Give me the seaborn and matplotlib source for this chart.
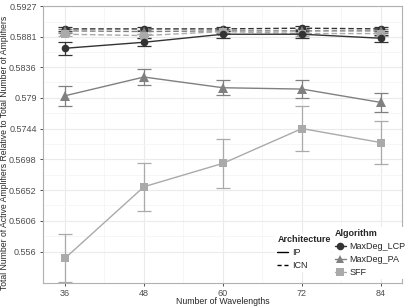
import matplotlib
matplotlib.use("Agg")
import matplotlib.pyplot as plt
from matplotlib.lines import Line2D
import seaborn as sns
import pandas as pd
import numpy as np

wavelengths = [36, 48, 60, 72, 84]
algorithms = ["MaxDeg_LCP", "MaxDeg_PA", "SFF"]
architectures = ["IP", "ICN"]

# IP (solid)
lcp_ip = [0.5864, 0.5873, 0.5885, 0.5885, 0.5879]
lcp_ip_err = [0.0010, 0.0006, 0.0005, 0.0005, 0.0005]
pa_ip = [0.5793, 0.5821, 0.5805, 0.5803, 0.5783]
pa_ip_err = [0.0015, 0.0012, 0.0011, 0.0013, 0.0014]
sff_ip = [0.5550, 0.5657, 0.5692, 0.5744, 0.5723]
sff_ip_err = [0.0036, 0.0036, 0.0037, 0.0034, 0.0032]
# ICN (dashed)
lcp_icn = [0.5893, 0.5893, 0.5893, 0.5894, 0.5893]
lcp_icn_err = [0.0003, 0.0003, 0.0003, 0.0003, 0.0003]
pa_icn = [0.5890, 0.5889, 0.5890, 0.5890, 0.5890]
pa_icn_err = [0.0003, 0.0003, 0.0003, 0.0003, 0.0003]
sff_icn = [0.5885, 0.5883, 0.5889, 0.5886, 0.5886]
sff_icn_err = [0.0003, 0.0003, 0.0003, 0.0003, 0.0003]

y_ticks = [0.556, 0.5606, 0.5652, 0.5698, 0.5744, 0.579, 0.5836, 0.5881, 0.5927]
y_tick_labels = ["0.556", "0.5606", "0.5652", "0.5698", "0.5744", "0.579", "0.5836", "0.5881", "0.5927"]

rows = []
series = {
    ("MaxDeg_LCP", "IP"): (lcp_ip, lcp_ip_err),
    ("MaxDeg_PA", "IP"): (pa_ip, pa_ip_err),
    ("SFF", "IP"): (sff_ip, sff_ip_err),
    ("MaxDeg_LCP", "ICN"): (lcp_icn, lcp_icn_err),
    ("MaxDeg_PA", "ICN"): (pa_icn, pa_icn_err),
    ("SFF", "ICN"): (sff_icn, sff_icn_err),
}
for (alg, arch), (vals, errs) in series.items():
    for w, v, e in zip(wavelengths, vals, errs):
        rows.append({"Wavelengths": w, "Value": v, "Err": e, "Algorithm": alg, "Architecture": arch})
df = pd.DataFrame(rows)

sns.set_theme(style="white")
plt.rcParams["font.family"] = ["Liberation Sans", "DejaVu Sans"]

colors = {"MaxDeg_LCP": "#333333", "MaxDeg_PA": "#808080", "SFF": "#aaaaaa"}
markers = {"MaxDeg_LCP": "o", "MaxDeg_PA": "^", "SFF": "s"}

fig = plt.figure(figsize=(4.09, 3.07), dpi=100)
ax = fig.add_axes([0.105, 0.078, 0.878, 0.902])

ax.set_xlim(32.66, 87.2)
ax.set_ylim(0.5513, 0.5927)
ax.set_xticks(wavelengths)
ax.set_xticks([42, 54, 66, 78], minor=True)
ax.set_yticks(y_ticks)
ax.set_yticks([(a + b) / 2 for a, b in zip(y_ticks[:-1], y_ticks[1:])], minor=True)
ax.grid(True, which="major", color="#ebebeb", lw=0.8)
ax.grid(True, which="minor", color="#f5f5f5", lw=0.6)
ax.set_axisbelow(True)

for arch in ["ICN", "IP"]:
    for alg in algorithms:
        sub = df[(df.Algorithm == alg) & (df.Architecture == arch)]
        ax.errorbar(sub.Wavelengths, sub.Value, yerr=sub.Err, fmt="none",
                    ecolor=colors[alg], elinewidth=0.9, capsize=5, capthick=0.9, zorder=2)
        sns.lineplot(data=sub, x="Wavelengths", y="Value", ax=ax, color=colors[alg],
                     marker=markers[alg], markersize=5.5 if alg != "MaxDeg_PA" else 6.5,
                     markeredgewidth=0, lw=1.0, legend=False, zorder=3,
                     linestyle="-" if arch == "IP" else (0, (4, 2)))

ax.set_yticklabels(y_tick_labels)
ax.tick_params(axis="both", which="major", labelsize=6.5, length=2.5, width=0.6,
               color="#333333", labelcolor="#4d4d4d", direction="out", pad=2,
               bottom=True, left=True)
ax.tick_params(which="minor", length=0)
for s in ax.spines.values():
    s.set_color("#b0b0b0")
    s.set_linewidth(0.8)
ax.set_xlabel("Number of Wavelengths", fontsize=6.3, va="center")
ax.xaxis.set_label_coords(0.5, -0.0675)
ax.set_ylabel("Total Number of Active Amplifiers Relative to Total Number of Amplifiers",
              fontsize=6.2, va="center")
ax.yaxis.set_label_coords(-0.106, 0.47)

# legends
h_arch = [Line2D([], [], color="black", lw=1.0, ls="-"),
          Line2D([], [], color="black", lw=1.0, ls=(0, (3, 2)))]
leg1 = ax.legend(h_arch, architectures, title="Architecture", loc="lower left",
                 bbox_to_anchor=(0.635, 0.025), frameon=True, fontsize=6.5,
                 title_fontsize=6.5, handlelength=1.2, handletextpad=0.4,
                 labelspacing=0.45, borderpad=0.2, alignment="left")
leg1.get_title().set_fontweight("bold")
leg1.get_frame().set_edgecolor("none")
leg1.get_frame().set_facecolor("white")
leg1.get_frame().set_alpha(1)
ax.add_artist(leg1)

h_alg = [Line2D([], [], color=colors[a], marker=markers[a], markersize=5.5, lw=1.0,
                markeredgewidth=0) for a in algorithms]
leg2 = ax.legend(h_alg, algorithms, title="Algorithm", loc="lower left",
                 bbox_to_anchor=(0.795, -0.002), frameon=True, fontsize=6.5,
                 title_fontsize=6.5, handlelength=1.2, handletextpad=0.4,
                 labelspacing=0.45, borderpad=0.2, alignment="left")
leg2.get_title().set_fontweight("bold")
leg2.get_frame().set_edgecolor("none")
leg2.get_frame().set_facecolor("white")
leg2.get_frame().set_alpha(1)

fig.savefig("out.png", dpi=100)
